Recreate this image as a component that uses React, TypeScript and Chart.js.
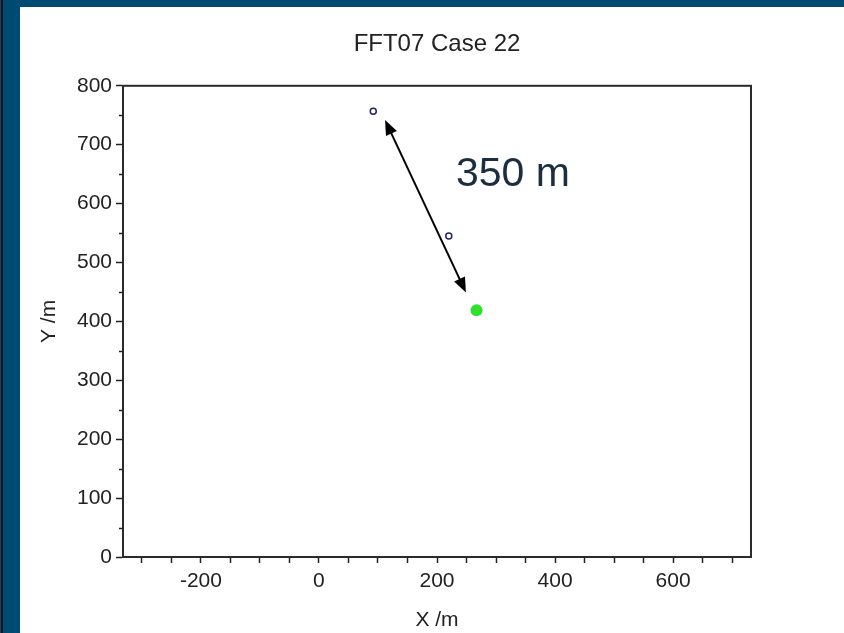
import React, { useEffect, useRef } from "react";
import { Chart, registerables } from "chart.js";

Chart.register(...registerables);

// ---- data ----
const titleText = "FFT07 Case 22";
const xTitle = "X /m";
const yTitle = "Y /m";
const sourceX = [92, 220];
const sourceY = [757, 545];
const receptorX = [267];
const receptorY = [419];
const xRange = [-332, 732];
const yRange = [0, 800];
const xLabelStep = 200;
const yLabelStep = 100;
const minorStep = 50;
// annotation (data coords)
const arrowStart = [112, 742];
const arrowEnd = [249, 449];
const distanceLabel = "350 m";
const distanceLabelPos = [232, 630];

const FONT = "'Liberation Sans', Arial, sans-serif";

const framePlugin = {
  id: "frameAndAnnot",
  afterLayout(chart: any) {
    // center the title over the plot area
    const tb = chart.titleBlock;
    const ca = chart.chartArea;
    if (tb && ca) {
      tb.left = ca.left;
      tb.right = ca.right;
      tb.width = ca.right - ca.left;
    }
  },
  afterDraw(chart: any) {
    const { ctx, chartArea, scales } = chart;
    const xs = scales.x;
    const ys = scales.y;
    ctx.save();
    // minor ticks on y axis
    ctx.strokeStyle = "#222";
    ctx.lineWidth = 1.5;
    for (let v = yRange[0]; v <= yRange[1]; v += minorStep) {
      if (v % yLabelStep === 0) continue;
      const py = Math.round(ys.getPixelForValue(v)) + 0.5;
      ctx.beginPath();
      ctx.moveTo(chartArea.left - 4, py);
      ctx.lineTo(chartArea.left, py);
      ctx.stroke();
    }
    // plot box
    ctx.strokeStyle = "#2a2a2a";
    ctx.lineWidth = 2;
    ctx.strokeRect(chartArea.left, chartArea.top, chartArea.right - chartArea.left, chartArea.bottom - chartArea.top);

    // double-headed arrow
    const x1 = xs.getPixelForValue(arrowStart[0]);
    const y1 = ys.getPixelForValue(arrowStart[1]);
    const x2 = xs.getPixelForValue(arrowEnd[0]);
    const y2 = ys.getPixelForValue(arrowEnd[1]);
    const ang = Math.atan2(y2 - y1, x2 - x1);
    const headLen = 15;
    const headW = 6;
    ctx.strokeStyle = "#000";
    ctx.fillStyle = "#000";
    ctx.lineWidth = 2;
    ctx.beginPath();
    ctx.moveTo(x1 + Math.cos(ang) * headLen * 0.8, y1 + Math.sin(ang) * headLen * 0.8);
    ctx.lineTo(x2 - Math.cos(ang) * headLen * 0.8, y2 - Math.sin(ang) * headLen * 0.8);
    ctx.stroke();
    const head = (tx: number, ty: number, a: number) => {
      const bx = tx - Math.cos(a) * headLen;
      const by = ty - Math.sin(a) * headLen;
      ctx.beginPath();
      ctx.moveTo(tx, ty);
      ctx.lineTo(bx + Math.cos(a + Math.PI / 2) * headW, by + Math.sin(a + Math.PI / 2) * headW);
      ctx.lineTo(bx - Math.cos(a + Math.PI / 2) * headW, by - Math.sin(a + Math.PI / 2) * headW);
      ctx.closePath();
      ctx.fill();
    };
    head(x2, y2, ang);
    head(x1, y1, ang + Math.PI);

    // distance label
    ctx.fillStyle = "#1b2d3f";
    ctx.font = `41px ${FONT}`;
    ctx.textBaseline = "alphabetic";
    ctx.textAlign = "left";
    ctx.fillText(distanceLabel, xs.getPixelForValue(distanceLabelPos[0]), ys.getPixelForValue(distanceLabelPos[1]));
    ctx.restore();
  },
};

export default function App() {
  const ref = useRef<HTMLCanvasElement | null>(null);
  useEffect(() => {
    if (!ref.current) return;
    const chart = new Chart(ref.current, {
      type: "scatter",
      data: {
        datasets: [
          {
            label: "sources",
            data: sourceX.map((x, i) => ({ x, y: sourceY[i] })),
            pointRadius: 3,
            pointBorderWidth: 1.5,
            borderColor: "#23236b",
            backgroundColor: "#ffffff",
          },
          {
            label: "receptor",
            data: receptorX.map((x, i) => ({ x, y: receptorY[i] })),
            pointRadius: 6,
            pointBorderWidth: 0,
            borderColor: "#2fe02f",
            backgroundColor: "#2fe02f",
          },
        ],
      },
      options: {
        animation: false,
        responsive: false,
        layout: { padding: { left: 20, top: 7, right: 93, bottom: 0 } },
        plugins: {
          legend: { display: false },
          tooltip: { enabled: false },
          title: {
            display: true,
            text: titleText,
            color: "#222",
            font: { family: FONT, size: 24, weight: "normal" },
            padding: { top: 23, bottom: 27 },
          },
        },
        scales: {
          x: {
            type: "linear",
            min: xRange[0],
            max: xRange[1],
            afterFit: (s: any) => {
              s.height = 76;
            },
            afterBuildTicks: (s: any) => {
              const t = [];
              for (let v = -300; v <= xRange[1]; v += minorStep) t.push({ value: v });
              s.ticks = t;
            },
            grid: { drawOnChartArea: false, tickLength: 6, tickColor: "#222", tickWidth: 1.5 },
            border: { display: true, color: "#2a2a2a", width: 2 },
            ticks: {
              autoSkip: false,
              maxRotation: 0,
              padding: 6,
              color: "#222",
              font: { family: FONT, size: 21 },
              callback: (v: any) => (Number(v) % xLabelStep === 0 ? String(Number(v) + 0) : ""),
            },
            title: {
              display: true,
              text: xTitle,
              color: "#222",
              font: { family: FONT, size: 21 },
              padding: { top: 0, bottom: 0 },
            },
          },
          y: {
            type: "linear",
            min: yRange[0],
            max: yRange[1],
            afterFit: (s: any) => {
              s.width = 103;
            },
            afterBuildTicks: (s: any) => {
              const t = [];
              for (let v = yRange[0]; v <= yRange[1]; v += yLabelStep) t.push({ value: v });
              s.ticks = t;
            },
            grid: { drawOnChartArea: false, tickLength: 7, tickColor: "#222", tickWidth: 1.5 },
            border: { display: true, color: "#2a2a2a", width: 2 },
            ticks: {
              autoSkip: false,
              padding: 4,
              color: "#222",
              font: { family: FONT, size: 21 },
              callback: (v: any) => String(v),
            },
            title: {
              display: true,
              text: yTitle,
              color: "#222",
              font: { family: FONT, size: 21 },
              padding: { top: 17, bottom: 0 },
            },
          },
        },
      },
      plugins: [framePlugin],
    } as any);
    return () => chart.destroy();
  }, []);

  return (
    <div
      style={{
        position: "fixed",
        left: 0,
        top: 0,
        width: 844,
        height: 633,
        background: "#004b73",
        overflow: "hidden",
      }}
    >
      <div style={{ position: "absolute", left: 1, top: 0, width: 2, height: 633, background: "#111" }} />
      <div style={{ position: "absolute", left: 20, top: 7, width: 824, height: 626, background: "#ffffff" }} />
      <canvas
        ref={ref}
        width={844}
        height={633}
        style={{ position: "absolute", left: 0, top: 0, width: 844, height: 633 }}
      />
    </div>
  );
}
